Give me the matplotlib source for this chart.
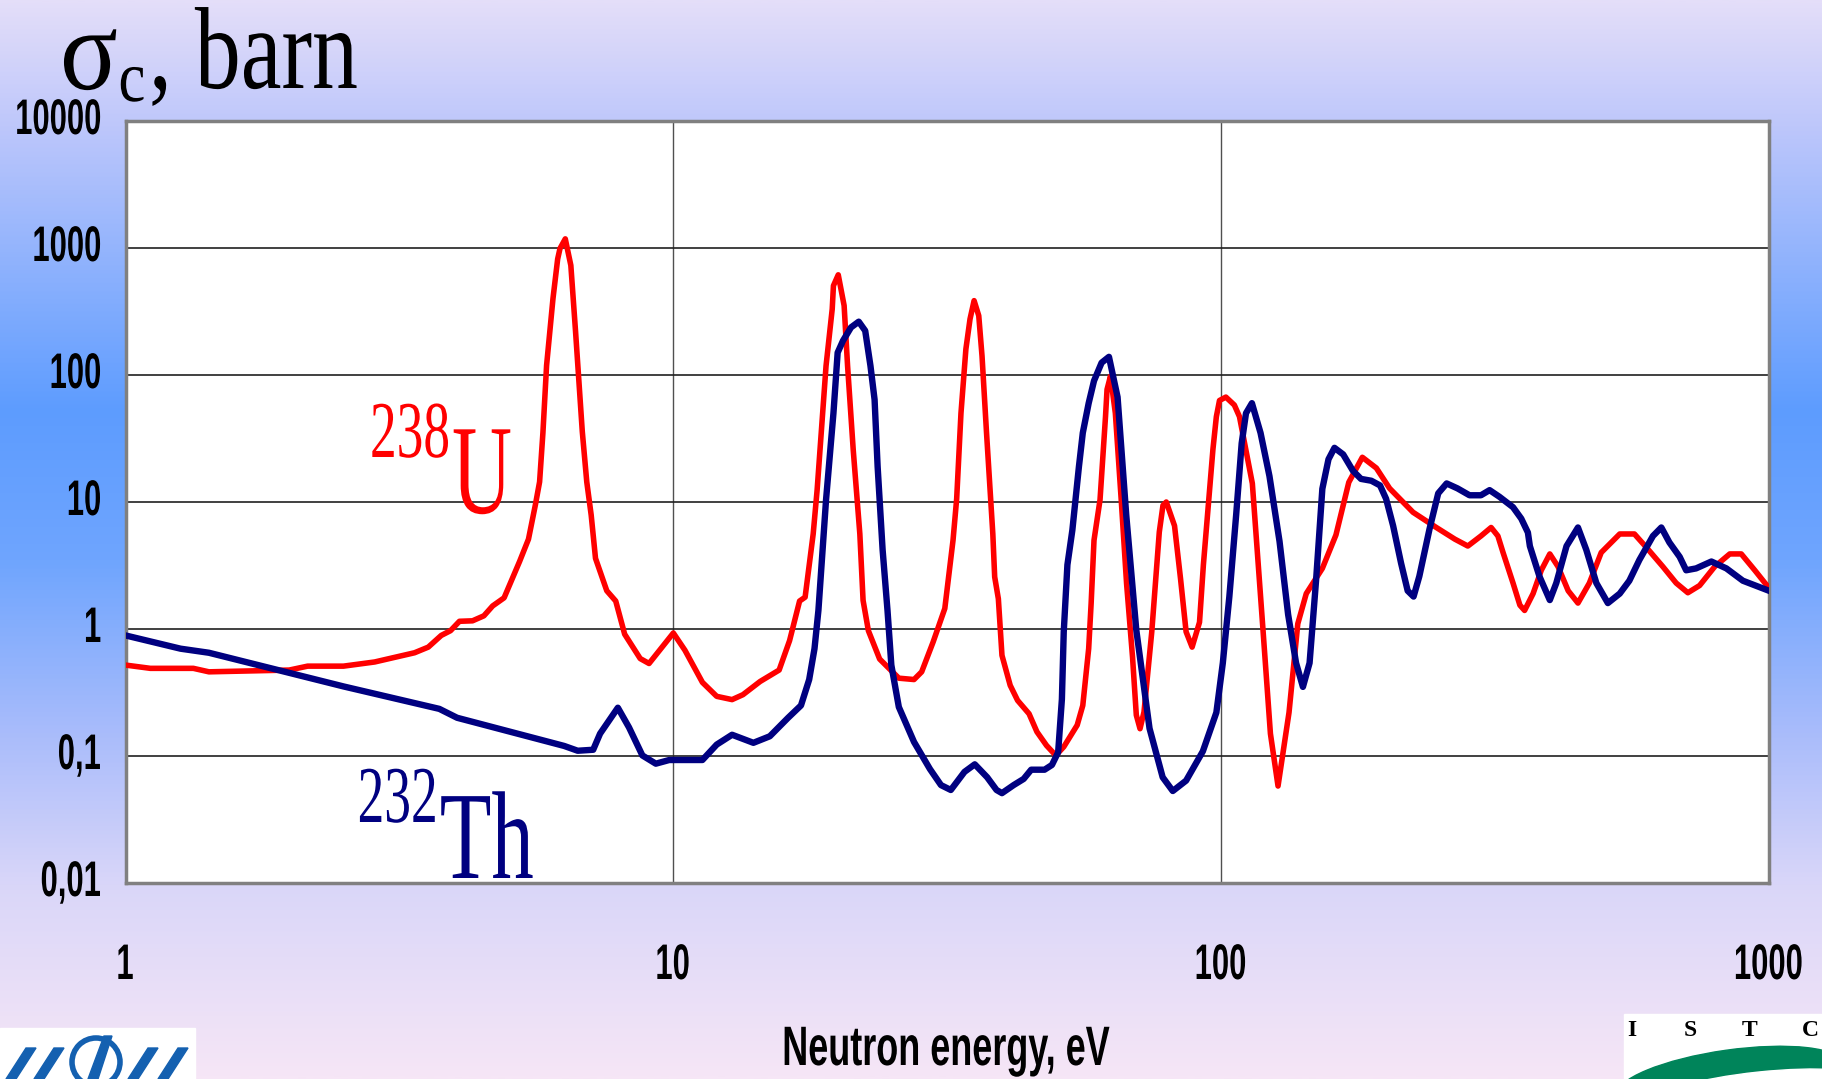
import numpy as np
import matplotlib
matplotlib.use("Agg")
import matplotlib.pyplot as plt
from matplotlib.colors import LinearSegmentedColormap
from matplotlib.patches import Rectangle, Circle, Polygon, Ellipse
from matplotlib.patheffects import AbstractPathEffect
from matplotlib.transforms import Affine2D, blended_transform_factory

# capture cross-section of 238U (eV, barn)
u_energy = [1.0, 1.11, 1.33, 1.42, 1.99, 2.15, 2.5, 2.85, 3.37, 3.57, 3.77, 3.92, 4.07, 4.3,
            4.51, 4.68, 4.91, 5.24, 5.44, 5.6, 5.7, 5.78, 5.87, 6.03, 6.15, 6.21, 6.35, 6.5,
            6.63, 6.82, 6.95, 7.08, 7.21, 7.56, 7.85, 8.15, 8.7, 9.03, 10.0, 10.5, 11.3, 12.0,
            12.8, 13.4, 14.4, 15.6, 16.3, 17.0, 17.4, 18.0, 18.3, 19.0, 19.5, 19.6, 20.0, 20.5,
            20.8, 21.3, 21.9, 22.2, 22.7, 23.8, 25.8, 27.5, 28.4, 29.8, 31.3, 32.4, 32.9, 33.5,
            34.2, 34.8, 35.4, 36.1, 36.6, 37.3, 38.3, 38.6, 39.2, 39.8, 41.2, 42.5, 44.6, 46.1,
            48.0, 49.9, 51.6, 54.6, 55.9, 57.3, 57.9, 58.6, 60.1, 61.5, 61.9, 62.8, 64.1, 65.7,
            67.2, 68.9, 70.0, 71.1, 72.3, 74.7, 77.1, 78.3, 79.4, 82.2, 84.3, 86.3, 88.5, 91.3,
            92.8, 96.6, 98.0, 99.3, 102, 105.7, 108, 114, 119, 123, 127, 133, 138, 143, 153,
            162, 171, 181, 192, 203, 224, 247, 267, 282, 298, 311, 320, 327, 341, 351, 358,
            371, 384, 398, 412, 430, 448, 470, 494, 534, 568, 597, 640, 677, 711, 747, 796,
            848, 890, 942, 1000]
u_sigma = [0.52, 0.49, 0.49, 0.46, 0.475, 0.51, 0.51, 0.55, 0.65, 0.72, 0.89, 0.97, 1.15, 1.16,
           1.27, 1.52, 1.76, 3.4, 5.1, 9.5, 14.4, 35, 119, 400, 820, 990, 1180, 730,
           220, 36, 14.4, 7.9, 3.6, 2.0, 1.66, 0.91, 0.585, 0.535, 0.93, 0.68, 0.38, 0.295,
           0.278, 0.304, 0.386, 0.475, 0.81, 1.66, 1.78, 5.6, 12.4, 118, 331, 505, 615, 352,
           118, 25.7, 5.6, 1.68, 0.97, 0.58, 0.41, 0.40, 0.46, 0.79, 1.45, 5.0, 10.6, 50,
           160, 276, 385, 293, 141, 35, 5.6, 2.57, 1.73, 0.62, 0.36, 0.274, 0.215, 0.155,
           0.121, 0.101, 0.118, 0.175, 0.25, 0.70, 1.6, 5.0, 10.4, 47, 77, 98, 50, 10.4,
           2.27, 0.6, 0.21, 0.164, 0.222, 0.95, 5.8, 9.4, 10, 6.5, 2.49, 0.95, 0.72, 1.13,
           3.2, 26, 47, 63, 67, 58, 47, 14, 1.1, 0.15, 0.058, 0.22, 1.1, 1.9, 3.0,
           5.5, 14.3, 22.5, 18.5, 12.8, 8.3, 6.3, 5.1, 4.5, 5.4, 6.3, 5.4, 4.0, 2.3, 1.54, 1.4,
           1.9, 2.9, 3.9, 3.1, 2.0, 1.6, 2.3, 4.0, 5.6, 5.6, 4.4, 3.1, 2.3, 1.93, 2.2, 3.1,
           3.9, 3.9, 2.9, 2.1]

# capture cross-section of 232Th
th_energy = [1.0, 1.26, 1.42, 2.5, 3.74, 4.03, 6.32, 6.69, 7.14, 7.35, 7.92, 8.3, 8.78, 9.29,
             9.83, 11.3, 12.0, 12.8, 14.0, 15.0, 16.2, 17.1, 17.7, 18.1, 18.4, 19.0, 19.6,
             19.95, 20.4, 21.1, 21.8, 22.4, 22.9, 23.3, 23.6, 24.1, 24.6, 25.0, 25.8, 27.5,
             29.4, 30.8, 32.1, 34.0, 35.5, 37.4, 38.9, 39.8, 41.8, 43.6, 45.0, 47.6, 49.1,
             50.4, 51.2, 51.6, 52.4, 53.5, 55.0, 55.9, 57.3, 58.6, 60.5, 62.4, 64.7, 67.1,
             70.0, 74.0, 78.2, 81.6, 86.3, 92.6, 98.0, 100.7, 103.5, 106.5, 109, 111, 113.8,
             118, 122.5, 127.8, 132.5, 137, 141, 145, 149, 153, 157, 161, 167, 174, 180, 188,
             195, 200, 206, 213, 219, 224.5, 230, 240, 249, 258, 270, 284, 298, 309, 322, 341,
             353, 363, 366, 381, 398, 409, 427, 448, 464, 484, 508, 534, 556, 580, 614, 636,
             658, 687, 706, 736, 785, 836, 896, 1000]
th_sigma = [0.89, 0.70, 0.65, 0.353, 0.235, 0.20, 0.12, 0.11, 0.112, 0.15, 0.24, 0.168, 0.101,
            0.087, 0.093, 0.093, 0.123, 0.147, 0.127, 0.143, 0.2, 0.25, 0.4, 0.7, 1.4, 10.4, 50,
            150, 186, 237, 263, 223, 118, 64, 19, 4.2, 1.4, 0.52, 0.243, 0.129,
            0.079, 0.059, 0.054, 0.075, 0.086, 0.068, 0.054, 0.051, 0.059, 0.066, 0.078, 0.078,
            0.085, 0.107, 0.28, 0.95, 3.2, 6.0, 19, 35, 60, 90, 125, 139, 67, 7.9,
            0.98, 0.165, 0.068, 0.053, 0.064, 0.109, 0.22, 0.54, 1.8, 7.9, 29, 50, 60,
            35, 16, 4.9, 1.3, 0.54, 0.35, 0.54, 2.4, 12.7, 21.7, 26.7, 23.7, 17.6, 15.2, 14.7,
            13.5, 10.6, 6.5, 3.3, 2.0, 1.8, 2.6, 6.1, 11.7, 14, 12.8, 11.3, 11.3, 12.4, 11, 9.1,
            7.4, 5.75, 4.5, 2.6, 1.69, 2.3, 4.5, 6.3, 4.2, 2.3, 1.6, 1.9, 2.4, 3.5, 5.4, 6.3,
            4.8, 3.7, 2.9, 3.0, 3.4, 3.0, 2.4, 2.0]

x_ticks = [1, 10, 100, 1000]
x_labels = ['1', '10', '100', '1000']
y_ticks = [0.01, 0.1, 1, 10, 100, 1000, 10000]
y_labels = ['0,01', '0,1', '1', '10', '100', '1000', '10000']

sans = 'Liberation Sans'
serif = 'Liberation Serif'
W, H = 1822, 1079


class Squeeze(AbstractPathEffect):
    """draw the glyphs narrower than the font, pinned at the left (0) or right (1) end"""

    def __init__(self, sx, anchor=0.0):
        super().__init__()
        self.sx = sx
        self.anchor = anchor

    def draw_path(self, renderer, gc, tpath, affine, rgbFace=None):
        ext = tpath.get_extents()
        px = ext.x0 + self.anchor * ext.width
        sq = Affine2D().translate(-px, 0).scale(self.sx, 1).translate(px, 0)
        renderer.draw_path(gc, tpath, sq + affine, rgbFace)


fig = plt.figure(figsize=(W / 100, H / 100), dpi=100)
rend = fig.canvas.get_renderer()


def width_of(s, **kw):
    t = fig.text(0, 0, s, **kw)
    w = t.get_window_extent(rend).width
    t.remove()
    return w


# background gradient and logos, in pixel coordinates
bg = fig.add_axes([0, 0, 1, 1], zorder=-5)
stops = [(0.0, '#e4def9'), (0.12, '#bcc6fb'), (0.38, '#5d9cff'), (0.52, '#6fa5fe'),
         (0.68, '#a9bcfb'), (0.82, '#d9d6f9'), (1.0, '#f6e6f6')]
cmap = LinearSegmentedColormap.from_list('bg', stops)
grad = np.linspace(0, 1, 512).reshape(-1, 1)
bg.imshow(grad, cmap=cmap, aspect='auto', extent=[0, W, H, 0])
bg.set_xlim(0, W)
bg.set_ylim(H, 0)
bg.axis('off')

# left logo (partly cut off)
bg.add_patch(Rectangle((0, 1028), 195, 60, color='white'))
logo_blue = '#1460b0'
bg.add_patch(Circle((96, 1062), 24, fill=False, ec=logo_blue, lw=4))
for x0 in [6, 34, 128, 158]:
    bg.add_patch(Polygon([(x0, 1079), (x0 + 10, 1079), (x0 + 30, 1048), (x0 + 20, 1048)],
                         color=logo_blue))
bg.add_patch(Polygon([(88, 1079), (98, 1079), (112, 1036), (104, 1036)], color=logo_blue))

# right logo
bg.add_patch(Rectangle((1624, 1014), 200, 70, color='white'))
for lx, ch in zip([1632, 1690, 1750, 1810], 'ISTC'):
    bg.text(lx, 1031, ch, fontsize=17, fontweight='bold', family=serif,
            ha='center', va='center', color='black')
bg.add_patch(Ellipse((1730, 1080), 230, 60, angle=-8, color='#00845a'))
bg.add_patch(Ellipse((1760, 1092), 220, 40, angle=-6, color='white'))

# main chart
ax = fig.add_axes([125.5 / W, 1 - 883 / H, 1643.5 / W, 762 / H])
ax.set_facecolor('white')
ax.plot(u_energy, u_sigma, color='#ff0000', lw=4.0, solid_joinstyle='round', zorder=3)
ax.plot(th_energy, th_sigma, color='#000080', lw=4.6, solid_joinstyle='round', zorder=4)
ax.set_xscale('log')
ax.set_yscale('log')
ax.set_xlim(1, 1000)
ax.set_ylim(0.01, 10000)
ax.minorticks_off()
ax.set_xticks(x_ticks)
ax.set_yticks(y_ticks)
ax.set_xticklabels([])
ax.set_yticklabels([])
ax.grid(axis='y', color='#202020', lw=1.2)
ax.grid(axis='x', color='#505050', lw=1.0)
ax.set_axisbelow(True)
ax.tick_params(length=0)
for sp in ax.spines.values():
    sp.set_color('#808080')
    sp.set_linewidth(2.5)

# tick labels: bold, narrow like the original
tick_kw = dict(family=sans, fontweight='bold', fontsize=36)
sx_tick = 86 / width_of('10000', **tick_kw)

ytrans = blended_transform_factory(fig.transFigure, ax.transData)
for v, s in zip(y_ticks, y_labels):
    w = width_of(s, **tick_kw)
    t = fig.text((100 - sx_tick * w) / W, v, s, transform=ytrans, ha='left', va='center',
                 **tick_kw)
    t.set_path_effects([Squeeze(sx_tick, 0.0)])

for v, s in zip(x_ticks, x_labels):
    w = width_of(s, **tick_kw)
    xc = ax.transData.transform((v, 1))[0]
    t = fig.text((xc + sx_tick * w / 2) / W, 1 - 966 / H, s, ha='right', va='center', **tick_kw)
    t.set_path_effects([Squeeze(sx_tick, 1.0)])

xl_kw = dict(family=sans, fontweight='bold', fontsize=40)
sx_xl = 327 / width_of('Neutron energy, eV', **xl_kw)
t = fig.text(945 / W, 1 - 1065 / H, 'Neutron energy, eV', ha='center', va='baseline', **xl_kw)
t.set_path_effects([Squeeze(sx_xl, 0.5)])


def pair(first, second, x_join, fs1, fs2, w1, w2, y1, y2, color):
    # first piece squeezed towards its right end, second towards its left end
    kw1 = dict(family=serif, fontsize=fs1, color=color, va='baseline')
    kw2 = dict(family=serif, fontsize=fs2, color=color, va='baseline')
    s1 = w1 / width_of(first, **kw1)
    s2 = w2 / width_of(second, **kw2)
    a = fig.text(x_join / W, 1 - y1 / H, first, ha='right', **kw1)
    a.set_path_effects([Squeeze(s1, 1.0)])
    b = fig.text(x_join / W, 1 - y2 / H, second, ha='left', **kw2)
    b.set_path_effects([Squeeze(s2, 0.0)])


# axis title: sigma with subscript c
pair('σ', 'c', 118, 84, 52, 58, 27, 89, 101, 'black')
t = fig.text(148 / W, 1 - 88 / H, ', barn', family=serif, fontsize=84, va='baseline', ha='left')
t.set_path_effects([Squeeze(209 / width_of(', barn', family=serif, fontsize=84), 0.0)])

# isotope names
pair('238', 'U', 451, 58, 92, 80, 60, 457, 513, '#ff0000')
pair('232', 'Th', 439, 58, 90, 80, 94, 822, 878, '#000080')

fig.savefig('out.png', dpi=100)
